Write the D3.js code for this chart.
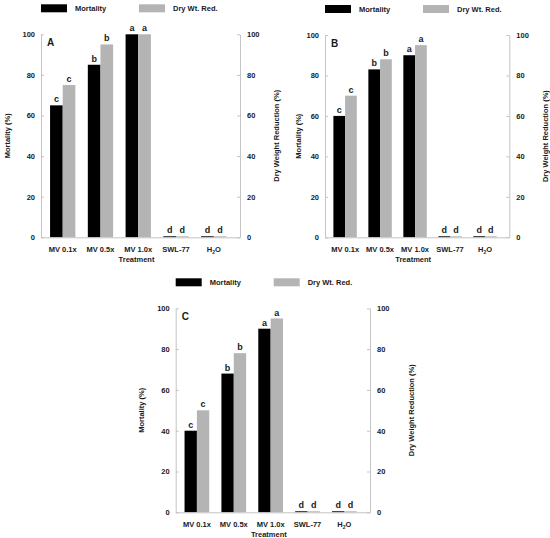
<!DOCTYPE html>
<html>
<head>
<meta charset="utf-8">
<script src="https://cdn.jsdelivr.net/npm/d3@7"></script>
<style>
  body { margin: 0; background: #fff; }
  text { font-family: "Liberation Sans", Arial, sans-serif; font-weight: bold; fill: #1a1a1a; }
  .axis path, .axis line { stroke: #c4c4c4; }
</style>
</head>
<body>
<div id="chart"></div>
<script>
// treatments on the x axis
var categories = ["MV 0.1x", "MV 0.5x", "MV 1.0x", "SWL-77", "H2O"];

// panel A
var mortalityA = [65, 85, 100, 0.5, 0.5];
var dryWtA     = [75, 95, 100, 0.5, 0.5];
// panel B
var mortalityB = [60, 83, 90, 0.5, 0.5];
var dryWtB     = [70, 88, 95, 0.5, 0.5];
// panel C
var mortalityC = [40, 68, 90, 0.5, 0.5];
var dryWtC     = [50, 78, 95, 0.5, 0.5];

// significance letters
var lettersMortality = ["c", "b", "a", "d", "d"];
var lettersDryWt     = ["c", "b", "a", "d", "d"];

var yTicks = [0, 20, 40, 60, 80, 100];
var seriesNames = ["Mortality", "Dry Wt. Red."];
var panelNames = ["A", "B", "C"];

var black = "#000", gray = "#b4b4b4";

var width = 550, height = 538;
var svg = d3.select("#chart").append("svg")
  .attr("width", width)
  .attr("height", height);

// plot boxes for the three panels
var panels = [
  {name: panelNames[0], m: mortalityA, d: dryWtA, x0: 41,    x1: 240,   y0: 34.3,  y1: 237.3, ly: -34, ry: 36},
  {name: panelNames[1], m: mortalityB, d: dryWtB, x0: 325,   x1: 509.3, y0: 35,    y1: 237.3, ly: -27, ry: 36},
  {name: panelNames[2], m: mortalityC, d: dryWtC, x0: 175.7, x1: 370,   y0: 308.3, y1: 512.3, ly: -34, ry: 41}
];

panels.forEach(drawPanel);

function drawPanel(p) {
  var w = p.x1 - p.x0, h = p.y1 - p.y0;
  var g = svg.append("g").attr("transform", "translate(" + p.x0 + "," + p.y0 + ")");

  var x = d3.scaleBand().domain(categories).range([0, w])
    .paddingInner(0.33).paddingOuter(0.3).align(0.4);
  var xs = d3.scaleBand().domain(seriesNames).range([0, x.bandwidth()]);
  var y = d3.scaleLinear().domain([0, 100]).range([h, 0]);

  // legend
  var leg = g.append("g").attr("transform", "translate(0," + (-30) + ")");
  leg.append("rect").attr("x", 0).attr("y", 0).attr("width", 26).attr("height", 8).attr("fill", black);
  leg.append("text").attr("x", 34).attr("y", 7).style("font-size", "7.5px").text(seriesNames[0]);
  leg.append("rect").attr("x", 98).attr("y", 0).attr("width", 26).attr("height", 8).attr("fill", gray);
  leg.append("text").attr("x", 132).attr("y", 7).style("font-size", "7.5px").text(seriesNames[1]);

  // bars
  var rows = categories.map(function(c, i) {
    return [
      {cat: c, s: seriesNames[0], v: p.m[i], l: lettersMortality[i], col: black},
      {cat: c, s: seriesNames[1], v: p.d[i], l: lettersDryWt[i], col: gray}
    ];
  });
  var flat = d3.merge(rows);

  g.selectAll("rect.bar").data(flat).enter().append("rect")
    .attr("class", "bar")
    .attr("x", function(d) { return x(d.cat) + xs(d.s); })
    .attr("width", xs.bandwidth())
    .attr("y", function(d) { return y(d.v); })
    .attr("height", function(d) { return h - y(d.v); })
    .attr("fill", function(d) { return d.col; });

  g.selectAll("text.sig").data(flat).enter().append("text")
    .attr("class", "sig")
    .attr("x", function(d) { return x(d.cat) + xs(d.s) + xs.bandwidth() / 2; })
    .attr("y", function(d) { return y(d.v) - 3; })
    .attr("text-anchor", "middle")
    .style("font-size", "9px")
    .text(function(d) { return d.l; });

  // axes
  var left = g.append("g").attr("class", "axis")
    .call(d3.axisLeft(y).tickValues(yTicks).tickSize(-3).tickSizeOuter(0).tickPadding(6));
  var right = g.append("g").attr("class", "axis").attr("transform", "translate(" + w + ",0)")
    .call(d3.axisRight(y).tickValues(yTicks).tickSize(-3).tickSizeOuter(0).tickPadding(7));
  var bottom = g.append("g").attr("class", "axis").attr("transform", "translate(0," + h + ")")
    .call(d3.axisBottom(x).tickSize(0).tickPadding(9));
  [left, right, bottom].forEach(function(a) {
    a.selectAll("text").style("font-size", "7.5px").attr("fill", "#1a1a1a");
  });

  // H2O with subscript
  bottom.selectAll(".tick text").filter(function(d) { return d === "H2O"; })
    .text(null)
    .call(function(t) {
      t.append("tspan").text("H");
      t.append("tspan").text("2").style("font-size", "5px").attr("dy", "2");
      t.append("tspan").text("O").attr("dy", "-2");
    });

  g.append("text")
    .attr("x", x.range()[1] / 2 - 4)
    .attr("y", h + 25)
    .attr("text-anchor", "middle")
    .style("font-size", "7.5px")
    .text("Treatment");

  g.append("text")
    .attr("transform", "translate(" + p.ly + "," + (h / 2) + ") rotate(-90)")
    .attr("text-anchor", "middle")
    .attr("dy", "0.35em")
    .style("font-size", "7.5px")
    .text("Mortality (%)");

  g.append("text")
    .attr("transform", "translate(" + (w + p.ry) + "," + (h / 2) + ") rotate(-90)")
    .attr("text-anchor", "middle")
    .attr("dy", "0.35em")
    .style("font-size", "7.5px")
    .text("Dry Weight Reduction (%)");

  // panel letter
  g.append("text")
    .attr("x", 6)
    .attr("y", 12)
    .style("font-size", "10px")
    .text(p.name);
}
</script>
</body>
</html>
